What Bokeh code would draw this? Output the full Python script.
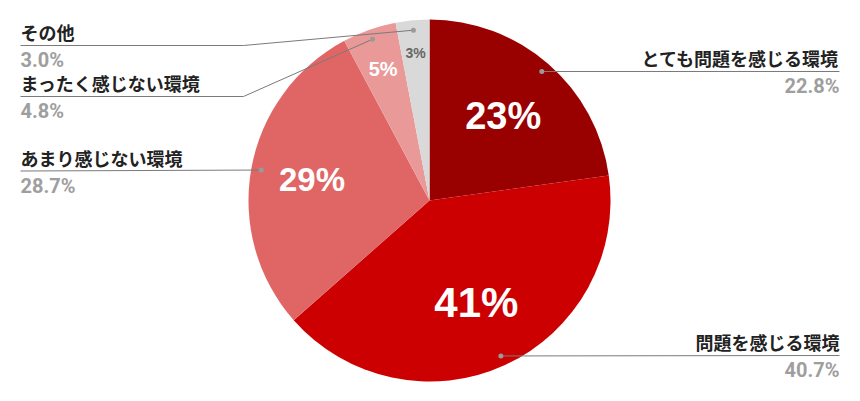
import math
from bokeh.plotting import figure
from bokeh.models import Range1d, ColumnDataSource
from bokeh.core.properties import value
from bokeh.embed import file_html
from bokeh.resources import INLINE

# ---- data ----
categories = ["とても問題を感じる環境", "問題を感じる環境", "あまり感じない環境", "まったく感じない環境", "その他"]
shares = [22.8, 40.7, 28.7, 4.8, 3.0]
inner_labels = ["23%", "41%", "29%", "5%", "3%"]
value_labels = ["22.8%", "40.7%", "28.7%", "4.8%", "3.0%"]
colors = ["#990000", "#cc0000", "#e06666", "#ea9999", "#d9d9d9"]

# ---- layout (screen px) ----
W, H = 844, 385


def X(sx):
    return sx


def Y(sy):
    return H - sy


CX, CY, R = X(429), Y(200), 181
inner_r = [0.62, 0.62, 0.66, 0.77, 0.82]
inner_size = ["38px", "42px", "33px", "20px", "14px"]
inner_color = ["white", "white", "white", "white", "#666666"]
dot_r = 0.945
side = ["right", "right", "left", "left", "left"]
line_y = [71, 355, 170.5, 96, 45]
elbow_x = [None, None, None, 243, 243]
LEFT_X, RIGHT_X = 20, 839

p = figure(width=W, height=H, x_range=Range1d(0, W), y_range=Range1d(0, H),
           output_backend="svg", toolbar_location=None,
           x_axis_type=None, y_axis_type=None, min_border=0,
           outline_line_color=None)
p.grid.visible = False

total = sum(shares)
starts, ends, mids = [], [], []
cum = 0.0
for s in shares:
    a0 = math.pi / 2 - 2 * math.pi * cum / total
    cum += s
    a1 = math.pi / 2 - 2 * math.pi * cum / total
    starts.append(a0)
    ends.append(a1)
    mids.append((a0 + a1) / 2)

src = ColumnDataSource(dict(start=starts, end=ends, color=colors))
p.wedge(x=CX, y=CY, radius=R, start_angle="start", end_angle="end",
        direction="clock", fill_color="color", line_color=None, source=src)

# inner percentage labels
for i, lab in enumerate(inner_labels):
    r = inner_r[i] * R
    p.text(x=[CX + r * math.cos(mids[i])], y=[CY + r * math.sin(mids[i])], text=[lab],
           text_font=value("Liberation Sans"), text_font_style="bold",
           text_font_size=inner_size[i], text_color=inner_color[i],
           text_align="center", text_baseline="middle")

# leader lines, dots, outside labels
LINE_C = "#7a7a7a"
for i, cat in enumerate(categories):
    dx = CX + dot_r * R * math.cos(mids[i])
    dy = CY + dot_r * R * math.sin(mids[i])
    ly = Y(line_y[i])
    if side[i] == "right":
        xs, ys = [dx, X(RIGHT_X)], [dy, ly]
        tx, align = X(RIGHT_X), "right"
    else:
        if elbow_x[i] is not None:
            xs, ys = [X(LEFT_X), X(elbow_x[i]), dx], [ly, ly, dy]
        else:
            xs, ys = [X(LEFT_X), dx], [ly, dy]
        tx, align = X(LEFT_X), "left"
    p.line(xs, ys, line_color=LINE_C, line_width=1)
    p.scatter([dx], [dy], size=5, fill_color="#9a9a9a", line_color=None)
    p.text(x=[tx], y=[ly + 13.5], text=[cat],
           text_font=value("Noto Sans CJK JP"), text_font_style="bold",
           text_font_size="18px", text_color="#222222",
           text_align=align, text_baseline="middle")
    p.text(x=[tx], y=[ly - 14.5], text=[value_labels[i]],
           text_font=value("Roboto"), text_font_style="bold",
           text_font_size="20px", text_color="#9e9e9e",
           text_align=align, text_baseline="middle")

open("out.html", "w").write(file_html(p, INLINE))
